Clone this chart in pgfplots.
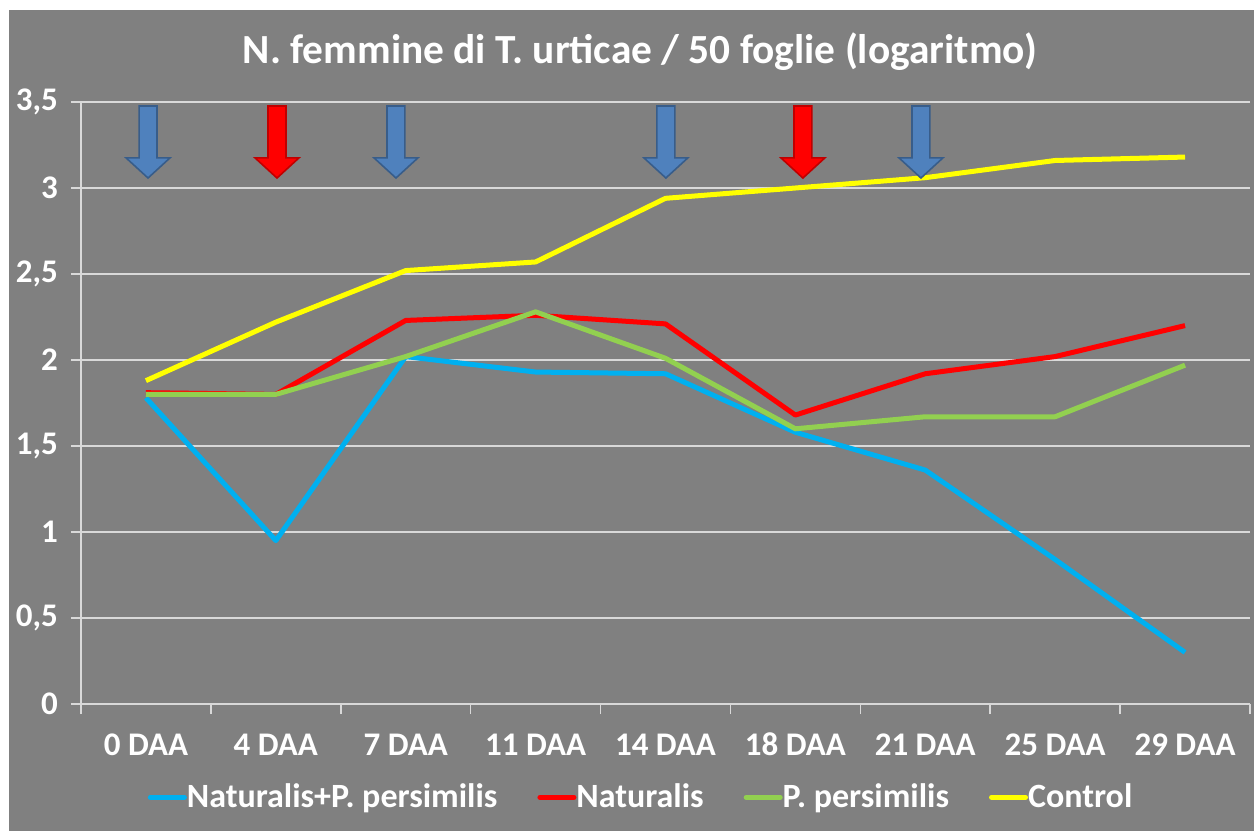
\documentclass[border=0pt]{standalone}
\usepackage{pgfplots}
\pgfplotsset{compat=1.18}
\usepackage{fontspec}
\setmainfont{Carlito}
\definecolor{bg}{HTML}{808080}
\definecolor{gridc}{HTML}{D9D9D9}
\definecolor{cblue}{HTML}{00B0F0}
\definecolor{cred}{HTML}{FF0000}
\definecolor{cgreen}{HTML}{92D050}
\definecolor{cyellow}{HTML}{FFFF00}
\definecolor{abluef}{HTML}{4F81BD}
\definecolor{ablued}{HTML}{385D8A}
\definecolor{aredf}{HTML}{FF0000}
\definecolor{aredd}{HTML}{C00000}
\newcommand{\darrow}[3]{\filldraw[fill=#2,draw=#3,line width=0.8pt,line join=miter]
  (axis cs:#1,3.477) ++(axis direction cs:-0.069,0) -- ++(axis direction cs:0.138,0)
  -- ++(axis direction cs:0,-0.302) -- ++(axis direction cs:0.1,0)
  -- ++(axis direction cs:-0.169,-0.117) -- ++(axis direction cs:-0.169,0.117)
  -- ++(axis direction cs:0.1,0) -- cycle;}
\begin{document}
\begin{tikzpicture}
\fill[white] (0,0) rectangle (627pt,415.5pt);
\fill[bg] (4.5pt,0) rectangle (627pt,410.5pt);
\node[text=white,font=\bfseries\fontsize{20.7}{25}\selectfont] at (320pt,389.5pt) {N. femmine di T. urticae / 50 foglie (logaritmo)};
\begin{axis}[
  at={(40.5pt,63.5pt)}, anchor=south west,
  scale only axis, width=584.5pt, height=301pt,
  xmin=-0.5, xmax=8.5, ymin=0, ymax=3.5,
  axis line style={gridc, line width=0.8pt},
  axis x line*=bottom, axis y line*=left,
  xtick={-0.5,0.5,...,8.5}, xticklabels={},
  extra x ticks={0,1,2,3,4,5,6,7,8},
  extra x tick labels={0 DAA,4 DAA,7 DAA,11 DAA,14 DAA,18 DAA,21 DAA,25 DAA,29 DAA},
  extra x tick style={major tick length=0pt, grid=none, tick style={draw=none}},
  ytick={0,0.5,...,3.5},
  ymajorgrids, grid style={gridc, line width=1pt},
  tick align=outside, major tick length=5pt,
  tick style={gridc, line width=0.8pt},
  ticklabel style={text=white, font=\bfseries\fontsize{16.5}{19}\selectfont},
  xticklabel style={anchor=base, yshift=-25.5pt},
  yticklabel style={xshift=-3pt},
  /pgf/number format/.cd, use comma, fixed, assume math mode=true,
  /pgfplots/.cd,
  legend columns=4,
  legend style={at={(0.48,-0.155)}, anchor=center, draw=none, fill=none,
    text=white, font=\bfseries\fontsize{17}{20}\selectfont,
    /tikz/every even column/.append style={column sep=18pt},
    /tikz/every odd column/.append style={column sep=-2pt}},
  legend image code/.code={\draw[#1, line cap=round] (0pt,0pt) -- (17pt,0pt);},
  every axis plot/.append style={line width=2.5pt, line join=round},
]
\addplot[cblue] coordinates {(0,1.78) (1,0.95) (2,2.02) (3,1.93) (4,1.92) (5,1.58) (6,1.36) (7,0.84) (8,0.30)};
\addlegendentry{Naturalis+P. persimilis}
\addplot[cred] coordinates {(0,1.81) (1,1.80) (2,2.23) (3,2.26) (4,2.21) (5,1.68) (6,1.92) (7,2.02) (8,2.20)};
\addlegendentry{Naturalis}
\addplot[cgreen] coordinates {(0,1.80) (1,1.80) (2,2.02) (3,2.28) (4,2.01) (5,1.60) (6,1.67) (7,1.67) (8,1.97)};
\addlegendentry{P. persimilis}
\addplot[cyellow] coordinates {(0,1.88) (1,2.22) (2,2.52) (3,2.57) (4,2.94) (5,3.00) (6,3.06) (7,3.16) (8,3.18)};
\addlegendentry{Control}
\darrow{0.016}{abluef}{ablued}
\darrow{1.009}{aredf}{aredd}
\darrow{1.925}{abluef}{ablued}
\darrow{4.003}{abluef}{ablued}
\darrow{5.058}{aredf}{aredd}
\darrow{5.967}{abluef}{ablued}
\end{axis}
\pgfresetboundingbox
\useasboundingbox (0,0) rectangle (627pt,415.5pt);
\end{tikzpicture}
\end{document}
